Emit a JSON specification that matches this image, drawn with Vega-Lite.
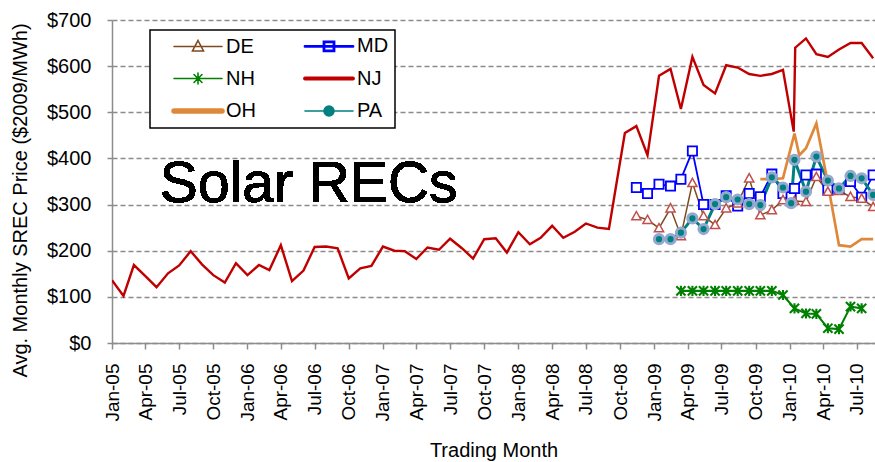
{
  "$schema": "https://vega.github.io/schema/vega-lite/v6.json",
  "width": 763,
  "height": 323,
  "autosize": {"type": "none"},
  "padding": {"left": 112, "top": 20, "right": 0, "bottom": 119},
  "background": "white",
  "config": {"view": {"stroke": null}, "font": "Liberation Sans"},
  "data": {"values": [
    {"series":"NJ","date":"2005-01-01","value":136},{"series":"NJ","date":"2005-02-01","value":102},{"series":"NJ","date":"2005-03-01","value":169},{"series":"NJ","date":"2005-04-01","value":145},{"series":"NJ","date":"2005-05-01","value":121},{"series":"NJ","date":"2005-06-01","value":151},{"series":"NJ","date":"2005-07-01","value":168},{"series":"NJ","date":"2005-08-01","value":199},{"series":"NJ","date":"2005-09-01","value":170},{"series":"NJ","date":"2005-10-01","value":147},{"series":"NJ","date":"2005-11-01","value":131},{"series":"NJ","date":"2005-12-01","value":173},
    {"series":"NJ","date":"2006-01-01","value":147},{"series":"NJ","date":"2006-02-01","value":169},{"series":"NJ","date":"2006-03-01","value":158},{"series":"NJ","date":"2006-04-01","value":212},{"series":"NJ","date":"2006-05-01","value":134},{"series":"NJ","date":"2006-06-01","value":157},{"series":"NJ","date":"2006-07-01","value":208},{"series":"NJ","date":"2006-08-01","value":209},{"series":"NJ","date":"2006-09-01","value":205},{"series":"NJ","date":"2006-10-01","value":140},{"series":"NJ","date":"2006-11-01","value":162},{"series":"NJ","date":"2006-12-01","value":167},
    {"series":"NJ","date":"2007-01-01","value":209},{"series":"NJ","date":"2007-02-01","value":200},{"series":"NJ","date":"2007-03-01","value":199},{"series":"NJ","date":"2007-04-01","value":182},{"series":"NJ","date":"2007-05-01","value":207},{"series":"NJ","date":"2007-06-01","value":202},{"series":"NJ","date":"2007-07-01","value":226},{"series":"NJ","date":"2007-08-01","value":206},{"series":"NJ","date":"2007-09-01","value":183},{"series":"NJ","date":"2007-10-01","value":225},{"series":"NJ","date":"2007-11-01","value":227},{"series":"NJ","date":"2007-12-01","value":196},
    {"series":"NJ","date":"2008-01-01","value":240},{"series":"NJ","date":"2008-02-01","value":214},{"series":"NJ","date":"2008-03-01","value":228},{"series":"NJ","date":"2008-04-01","value":254},{"series":"NJ","date":"2008-05-01","value":228},{"series":"NJ","date":"2008-06-01","value":241},{"series":"NJ","date":"2008-07-01","value":259},{"series":"NJ","date":"2008-08-01","value":250},{"series":"NJ","date":"2008-09-01","value":247},{"series":"NJ","date":"2008-09-14","value":310},{"series":"NJ","date":"2008-10-14","value":455},{"series":"NJ","date":"2008-11-14","value":470},{"series":"NJ","date":"2008-12-14","value":407},
    {"series":"NJ","date":"2009-01-14","value":579},{"series":"NJ","date":"2009-02-14","value":594},{"series":"NJ","date":"2009-03-14","value":507},{"series":"NJ","date":"2009-04-14","value":620},{"series":"NJ","date":"2009-05-14","value":559},{"series":"NJ","date":"2009-06-14","value":541},{"series":"NJ","date":"2009-07-14","value":602},{"series":"NJ","date":"2009-08-14","value":597},{"series":"NJ","date":"2009-09-14","value":583},{"series":"NJ","date":"2009-10-14","value":579},{"series":"NJ","date":"2009-11-14","value":583},{"series":"NJ","date":"2009-12-14","value":592},
    {"series":"NJ","date":"2010-01-12","value":458},{"series":"NJ","date":"2010-01-16","value":640},{"series":"NJ","date":"2010-02-14","value":660},{"series":"NJ","date":"2010-03-14","value":626},{"series":"NJ","date":"2010-04-14","value":620},{"series":"NJ","date":"2010-05-14","value":636},{"series":"NJ","date":"2010-06-14","value":650},{"series":"NJ","date":"2010-07-14","value":650},{"series":"NJ","date":"2010-08-14","value":617},

    {"series":"MD","date":"2008-11-14","value":337},{"series":"MD","date":"2008-12-14","value":324},{"series":"MD","date":"2009-01-14","value":344},{"series":"MD","date":"2009-02-14","value":340},{"series":"MD","date":"2009-03-14","value":355},{"series":"MD","date":"2009-04-14","value":416},{"series":"MD","date":"2009-05-14","value":300},{"series":"MD","date":"2009-06-14","value":300},{"series":"MD","date":"2009-07-14","value":319},{"series":"MD","date":"2009-08-14","value":297},{"series":"MD","date":"2009-09-14","value":324},{"series":"MD","date":"2009-10-14","value":317},{"series":"MD","date":"2009-11-14","value":366},{"series":"MD","date":"2009-12-14","value":324},{"series":"MD","date":"2010-01-05","value":317},{"series":"MD","date":"2010-01-14","value":335},{"series":"MD","date":"2010-02-14","value":364},{"series":"MD","date":"2010-03-14","value":366},{"series":"MD","date":"2010-04-14","value":332},{"series":"MD","date":"2010-05-14","value":333},{"series":"MD","date":"2010-06-14","value":350},{"series":"MD","date":"2010-07-14","value":316},{"series":"MD","date":"2010-08-14","value":364},

    {"series":"DE","date":"2008-11-14","value":275},{"series":"DE","date":"2008-12-14","value":267},{"series":"DE","date":"2009-01-14","value":249},{"series":"DE","date":"2009-02-14","value":292},{"series":"DE","date":"2009-03-14","value":232},{"series":"DE","date":"2009-04-14","value":347},{"series":"DE","date":"2009-05-14","value":275},{"series":"DE","date":"2009-06-14","value":256},{"series":"DE","date":"2009-07-14","value":292},{"series":"DE","date":"2009-08-14","value":303},{"series":"DE","date":"2009-09-14","value":357},{"series":"DE","date":"2009-10-14","value":277},{"series":"DE","date":"2009-11-14","value":288},{"series":"DE","date":"2009-12-14","value":310},{"series":"DE","date":"2010-01-14","value":308},{"series":"DE","date":"2010-02-14","value":306},{"series":"DE","date":"2010-03-14","value":360},{"series":"DE","date":"2010-04-14","value":328},{"series":"DE","date":"2010-05-14","value":330},{"series":"DE","date":"2010-06-14","value":317},{"series":"DE","date":"2010-07-14","value":313},{"series":"DE","date":"2010-08-14","value":295},

    {"series":"PA","date":"2009-01-14","value":225},{"series":"PA","date":"2009-02-14","value":225},{"series":"PA","date":"2009-03-14","value":239},{"series":"PA","date":"2009-04-14","value":270},{"series":"PA","date":"2009-05-14","value":247},{"series":"PA","date":"2009-06-14","value":301},{"series":"PA","date":"2009-07-14","value":316},{"series":"PA","date":"2009-08-14","value":311},{"series":"PA","date":"2009-09-14","value":301},{"series":"PA","date":"2009-10-14","value":299},{"series":"PA","date":"2009-11-14","value":359},{"series":"PA","date":"2009-12-14","value":337},{"series":"PA","date":"2010-01-05","value":303},{"series":"PA","date":"2010-01-14","value":397},{"series":"PA","date":"2010-02-14","value":328},{"series":"PA","date":"2010-03-14","value":404},{"series":"PA","date":"2010-04-14","value":352},{"series":"PA","date":"2010-05-14","value":335},{"series":"PA","date":"2010-06-14","value":362},{"series":"PA","date":"2010-07-14","value":357},{"series":"PA","date":"2010-08-14","value":321},

    {"series":"NH","date":"2009-03-14","value":113},{"series":"NH","date":"2009-04-14","value":113},{"series":"NH","date":"2009-05-14","value":113},{"series":"NH","date":"2009-06-14","value":113},{"series":"NH","date":"2009-07-14","value":113},{"series":"NH","date":"2009-08-14","value":113},{"series":"NH","date":"2009-09-14","value":113},{"series":"NH","date":"2009-10-14","value":113},{"series":"NH","date":"2009-11-14","value":113},{"series":"NH","date":"2009-12-14","value":104},{"series":"NH","date":"2010-01-14","value":75},{"series":"NH","date":"2010-02-14","value":64},{"series":"NH","date":"2010-03-14","value":63},{"series":"NH","date":"2010-04-14","value":32},{"series":"NH","date":"2010-05-14","value":30},{"series":"NH","date":"2010-06-14","value":79},{"series":"NH","date":"2010-07-14","value":75},

    {"series":"OH","date":"2009-10-14","value":355},{"series":"OH","date":"2009-11-14","value":355},{"series":"OH","date":"2009-12-14","value":357},{"series":"OH","date":"2010-01-14","value":454},{"series":"OH","date":"2010-01-27","value":407},{"series":"OH","date":"2010-02-14","value":422},{"series":"OH","date":"2010-03-14","value":476},{"series":"OH","date":"2010-04-14","value":345},{"series":"OH","date":"2010-05-14","value":212},{"series":"OH","date":"2010-06-14","value":209},{"series":"OH","date":"2010-07-14","value":225},{"series":"OH","date":"2010-08-14","value":225}
  ]},
  "layer": [
    {
      "mark": {"type": "line", "clip": true},
      "encoding": {
        "x": {
          "field": "date", "type": "temporal",
          "scale": {"type": "utc", "domain": [{"year": 2005, "month": 1, "date": 1, "utc": true}, {"year": 2010, "month": 8, "date": 19, "utc": true}]},
          "axis": {
            "format": "%b-%y", "tickCount": {"interval": "month", "step": 3},
            "labelAngle": 270, "labelAlign": "right", "labelBaseline": "middle",
            "labelFontSize": 19, "labelColor": "black", "labelPadding": 14, "labelOverlap": false, "labelFlush": false,
            "tickSize": 6, "tickColor": "#8c8c8c", "tickWidth": 1.5,
            "domainColor": "#8c8c8c", "domainWidth": 1.5, "grid": false,
            "title": "Trading Month", "titleFontSize": 20, "titleFontWeight": "normal", "titleColor": "black",
            "titleY": 107, "titleBaseline": "middle"
          }
        },
        "y": {
          "field": "value", "type": "quantitative",
          "scale": {"domain": [0, 700], "nice": false},
          "axis": {
            "values": [0, 100, 200, 300, 400, 500, 600, 700], "format": "$,.0f",
            "labelFontSize": 20, "labelColor": "black", "labelPadding": 16,
            "tickSize": 5, "tickColor": "#8c8c8c", "tickWidth": 1.5,
            "domainColor": "#8c8c8c", "domainWidth": 1.5,
            "grid": true, "gridDash": [5, 3], "gridColor": "#8a8a8a", "gridWidth": 1.3,
            "title": "Avg. Monthly SREC Price ($2009/MWh)", "titleFontSize": 20, "titleFontWeight": "normal", "titleColor": "black",
            "titleX": -92, "titleY": 180, "titleAngle": 270, "titleAlign": "center", "titleBaseline": "middle"
          }
        },
        "color": {
          "field": "series", "type": "nominal",
          "scale": {"domain": ["DE", "MD", "NH", "NJ", "OH", "PA"], "range": ["#7f4a1e", "#0000ff", "#008000", "#c00000", "#e0883a", "#008080"]},
          "legend": {
            "orient": "none", "legendX": 38, "legendY": 10, "columns": 2, "direction": "horizontal", "title": null,
            "labelFontSize": 20, "labelColor": "black", "labelOffset": 50,
            "symbolSize": 400, "rowPadding": 11.5, "columnPadding": 31, "padding": 6,
            "strokeColor": "black", "fillColor": "white",
            "symbolType": "M0.8,0L5.6,0", "symbolStrokeWidth": 2,
            "encode": {
              "legend": {"update": {"strokeWidth": {"value": 1.5}}},
              "symbols": {"update": {
                "shape": {"signal": "datum.value === 'DE' ? 'M0.8,0L5.6,0M3.2,-0.6L3.75,0.45L2.65,0.45Z' : datum.value === 'MD' ? 'M0.8,0L5.6,0M2.7,-0.45L3.7,-0.45L3.7,0.45L2.7,0.45Z' : datum.value === 'NH' ? 'M0.8,0L5.6,0M2.8,-0.4L3.6,0.4M2.8,0.4L3.6,-0.4M3.2,-0.55L3.2,0.55' : datum.value === 'PA' ? 'M0.8,0L5.6,0M2.7,0A0.5,0.5,0,1,0,3.7,0A0.5,0.5,0,1,0,2.7,0Z' : 'M0.8,0L5.6,0'"},
                "fill": {"signal": "datum.value === 'DE' || datum.value === 'MD' ? 'white' : datum.value === 'PA' ? '#008080' : 'transparent'"},
                "strokeWidth": {"signal": "datum.value === 'OH' ? 5.5 : datum.value === 'NJ' ? 3.8 : datum.value === 'MD' ? 2.8 : 1.6"},
                "strokeCap": {"value": "round"},
                "opacity": {"value": 1}
              }}
            }
          }
        },
        "strokeWidth": {
          "field": "series", "type": "nominal",
          "scale": {"domain": ["DE", "MD", "NH", "NJ", "OH", "PA"], "range": [1.5, 3, 1.8, 3.8, 5.5, 1.6]},
          "legend": null
        }
      }
    },
    {
      "transform": [{"filter": "datum.series !== 'NJ' && datum.series !== 'OH'"}],
      "mark": {"type": "point", "clip": true, "opacity": 1, "size": 85},
      "encoding": {
        "x": {"field": "date", "type": "temporal"},
        "y": {"field": "value", "type": "quantitative"},
        "shape": {
          "field": "series", "type": "nominal",
          "scale": {"domain": ["DE", "MD", "NH", "PA"], "range": ["M0,-1L1,0.8L-1,0.8Z", "square", "M-1,-1L1,1M-1,1L1,-1M0,-1.1L0,1.1", "circle"]},
          "legend": null
        },
        "fill": {
          "field": "series", "type": "nominal",
          "scale": {"domain": ["DE", "MD", "NH", "PA"], "range": ["white", "white", "transparent", "#008080"]},
          "legend": null
        },
        "stroke": {
          "field": "series", "type": "nominal",
          "scale": {"domain": ["DE", "MD", "NH", "PA"], "range": ["#c0504d", "#0000ff", "#008000", "#95a9cf"]},
          "legend": null
        },
        "strokeWidth": {
          "field": "series", "type": "nominal",
          "scale": {"domain": ["DE", "MD", "NH", "PA"], "range": [1.5, 2, 1.8, 1.6]},
          "legend": null
        }
      }
    },
    {
      "mark": {"type": "text", "align": "left", "baseline": "alphabetic", "fontSize": 57, "font": "Liberation Sans", "color": "black"},
      "encoding": {
        "x": {"datum": {"year": 2005, "month": 5, "date": 10, "utc": true}, "type": "temporal"},
        "y": {"datum": 305, "type": "quantitative"},
        "text": {"value": "Solar RECs"}
      }
    }
  ]
}
